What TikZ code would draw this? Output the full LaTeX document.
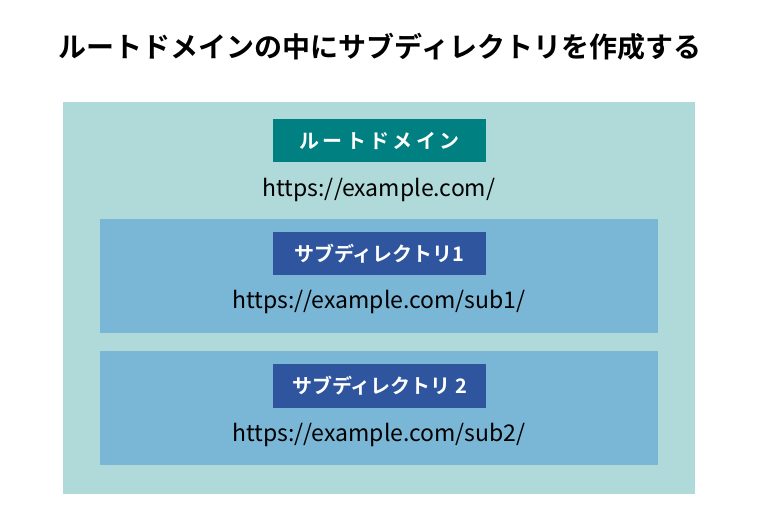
\documentclass[tikz,border=0pt]{standalone}
\usepackage{fontspec}
\setmainfont{Noto Sans CJK JP}
\newfontfamily\boldjp{Noto Sans CJK JP Bold}
\usepackage{xcolor}
\usepackage{tikz}
\usetikzlibrary{positioning}
\definecolor{rootbg}{RGB}{176,218,218}
\definecolor{rootlbl}{RGB}{0,128,128}
\definecolor{subbg}{RGB}{122,182,214}
\definecolor{sublbl}{RGB}{46,85,158}
\tikzset{
  outerbox/.style={fill=rootbg, draw=none, minimum width=632pt, minimum height=391pt, inner sep=0pt},
  subbox/.style={fill=subbg, draw=none, minimum width=558pt, minimum height=114pt, inner sep=0pt},
  lblbox/.style={draw=none, text=white, font=\boldjp\fontsize{20}{20}\selectfont, minimum width=213pt, minimum height=43pt, inner sep=0pt},
  url/.style={font=\fontsize{23}{23}\selectfont, inner sep=0pt}
}
\begin{document}
\begin{tikzpicture}[x=1pt,y=-1pt]
    \useasboundingbox (0,0) rectangle (760,526);
    \node[font=\boldjp\fontsize{28}{28}\selectfont, inner sep=0pt] (title) at (380,47) {ルートドメインの中にサブディレクトリを作成する};
    \node[outerbox] (root) at (379,298) {};
    \node[lblbox, fill=rootlbl] (rootlabel) at (379.5,140.5) {ル\,ー\,ト\,ド\,メ\,イ\,ン};
    \node[url] (rooturl) at (379,190) {https://example.com/};
    \node[subbox] (subA) at (379,276) {};
    \node[lblbox, fill=sublbl] (subAlabel) at (379.5,254) {サブディレクトリ1};
    \node[url] (subAurl) at (379,302) {https://example.com/sub1/};
    \node[subbox] (subB) at (379,408) {};
    \node[lblbox, fill=sublbl] (subBlabel) at (379.5,386) {サブディレクトリ 2};
    \node[url] (subBurl) at (379,435) {https://example.com/sub2/};
\end{tikzpicture}
\end{document}
